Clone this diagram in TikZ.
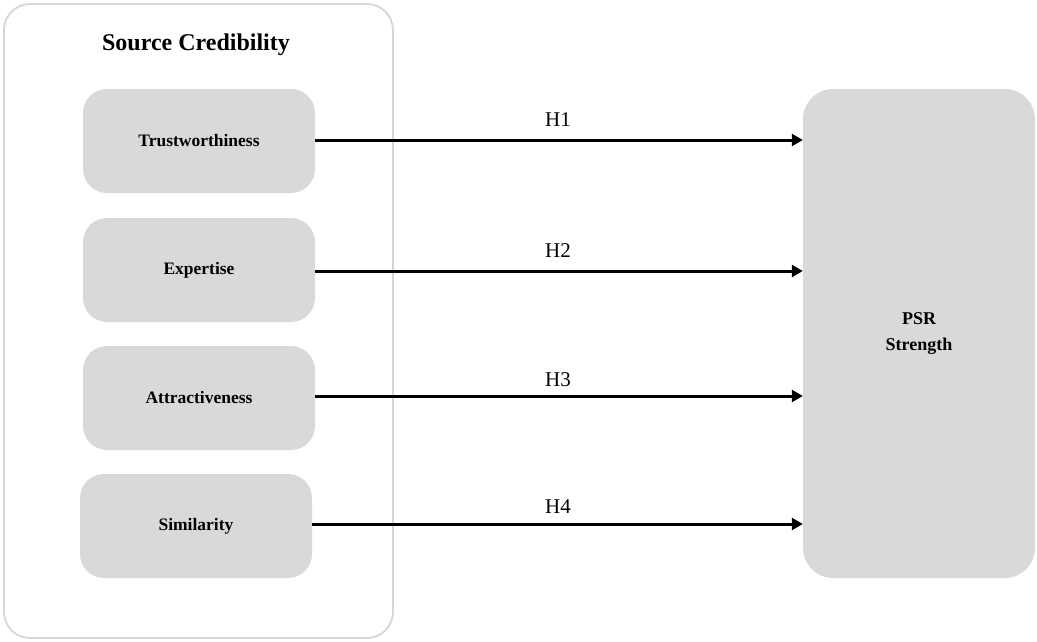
\documentclass[tikz,border=0pt]{standalone}
\usepackage{fontspec}
\setmainfont{Liberation Serif}
\usetikzlibrary{arrows.meta}
\definecolor{boxgray}{HTML}{D9D9D9}
\definecolor{framegray}{HTML}{D6D6D6}
\begin{document}
\begin{tikzpicture}[x=1pt,y=-1pt,
  inbox/.style={fill=boxgray,draw=none,rounded corners=24pt,minimum width=232pt,minimum height=104pt,font=\fontsize{17.5}{20}\selectfont\bfseries,align=center},
  link/.style={line width=3pt,-{Triangle[length=11pt,width=12pt]}},
  hlabel/.style={font=\fontsize{21}{24}\selectfont,anchor=base}]
\useasboundingbox (0,0) rectangle (1037,641);
\draw[framegray,line width=1.8pt,rounded corners=26pt] (4,4) rectangle (393,638);
\node[font=\fontsize{24}{28}\selectfont\bfseries,anchor=base] (title) at (196,50) {Source Credibility};
\node[inbox] (t) at (199,141) {Trustworthiness};
\node[inbox] (e) at (199,270) {Expertise};
\node[inbox] (a) at (199,398) {Attractiveness};
\node[inbox] (s) at (196,526) {Similarity};
\node[fill=boxgray,draw=none,rounded corners=30pt,minimum width=232pt,minimum height=489pt,font=\fontsize{18}{26}\selectfont\bfseries,align=center] (p) at (919,333.5) {PSR\\Strength};
\coordinate (pt) at (p.west |- 0,140);
\coordinate (pe) at (p.west |- 0,271);
\coordinate (pa) at (p.west |- 0,396);
\coordinate (ps) at (p.west |- 0,524);
\draw[link] (t.east |- pt) -- (pt);
\draw[link] (e.east |- pe) -- (pe);
\draw[link] (a.east |- pa) -- (pa);
\draw[link] (s.east |- ps) -- (ps);
\node[hlabel] (h1) at (558,126) {H1};
\node[hlabel] (h2) at (558,257) {H2};
\node[hlabel] (h3) at (558,386) {H3};
\node[hlabel] (h4) at (558,513) {H4};
\end{tikzpicture}
\end{document}
